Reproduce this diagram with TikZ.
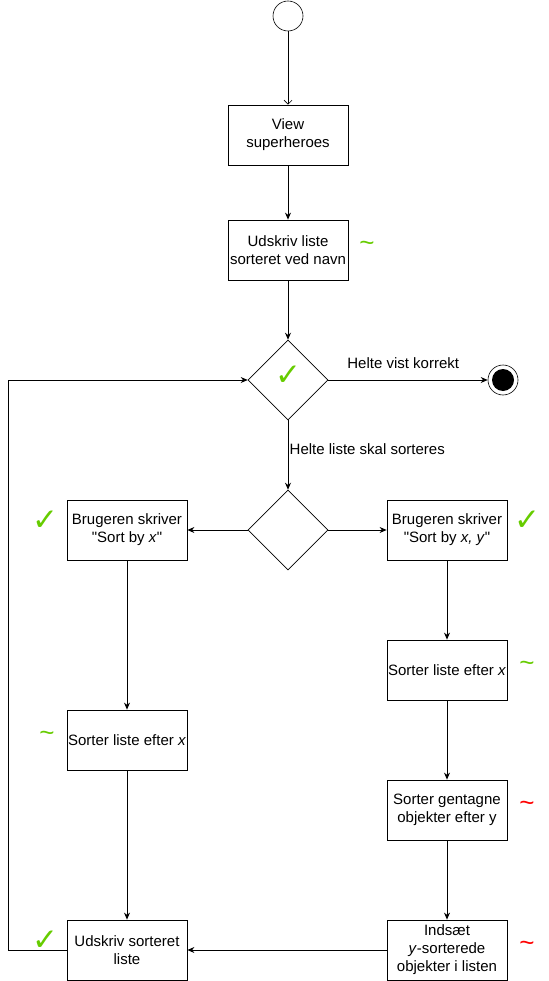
\documentclass[tikz,border=0pt]{standalone}
\usepackage{fontspec}
\setmainfont{Liberation Sans}
\newfontfamily\symfont{DejaVu Sans}
\usetikzlibrary{arrows.meta,shapes.geometric}
\definecolor{okgreen}{HTML}{66CC00}
\definecolor{badred}{HTML}{FF0000}
\tikzset{
  box/.style={draw, line width=0.8pt, minimum width=120pt, minimum height=60pt, inner sep=1pt, align=center, font=\fontsize{15}{18}\selectfont},
  dec/.style={draw, line width=0.6pt, diamond, minimum width=80pt, minimum height=80pt, inner sep=0pt, aspect=1},
  conn/.style={draw, line width=0.8pt, -{Stealth[length=7pt,width=6pt]}},
  lbl/.style={font=\fontsize{15}{18}\selectfont},
  chk/.style={text=okgreen, font=\symfont\fontsize{31}{31}\selectfont},
  tildeg/.style={text=okgreen, font=\fontsize{26}{26}\selectfont},
  tilder/.style={text=badred, font=\fontsize{26}{26}\selectfont},
}
\begin{document}
\begin{tikzpicture}[x=1pt,y=-1pt]
\useasboundingbox (0,0) rectangle (548,981);
\node[draw, circle, line width=0.6pt, minimum size=30pt, inner sep=0pt] (start) at (288,16) {};
\node[box] (view) at (288,135) {View\\superheroes};
\node[box] (udskriv) at (288,250) {Udskriv liste\\sorteret ved navn};
\node[tildeg] (t1) at (367,246) {\textasciitilde};
\node[dec] (d1) at (288,380) {};
\node[chk] (c0) at (288,376) {✓};
\node[draw, circle, line width=0.6pt, minimum size=30pt, inner sep=0pt] (end) at (503,380) {};
\node[fill=black, circle, minimum size=22pt, inner sep=0pt] (endin) at (503,380) {};
\node[dec] (d2) at (288,530) {};
\node[box] (lx) at (127,530) {Brugeren skriver\\\textquotedbl Sort by \textit{x}\textquotedbl};
\node[box] (rxy) at (447,530) {Brugeren skriver\\\textquotedbl Sort by \textit{x, y}\textquotedbl};
\node[chk] (c1) at (45,521) {✓};
\node[chk] (c2) at (527,521) {✓};
\node[box] (rsort) at (447,670) {Sorter liste efter \textit{x}};
\node[tildeg] (t2) at (527,666) {\textasciitilde};
\node[box] (lsort) at (127,740) {Sorter liste efter \textit{x}};
\node[tildeg] (t3) at (47,736) {\textasciitilde};
\node[box] (rgen) at (447,810) {Sorter gentagne\\objekter efter y};
\node[tilder] (t4) at (527,806) {\textasciitilde};
\node[box] (rind) at (447,950) {Indsæt\\\textit{y}-sorterede\\objekter i listen};
\node[tilder] (t5) at (527,946) {\textasciitilde};
\node[box] (lud) at (127,950) {Udskriv sorteret\\liste};
\node[chk] (c3) at (45,941) {✓};
\coordinate (bl) at (8,950);
\coordinate (tl) at (8,380);

\draw[line width=0.6pt, -{Straight Barb[length=4pt,width=8pt]}] (start) -- (view);
\draw[conn] (view) -- (udskriv);
\draw[conn] (udskriv) -- (d1);
\draw[conn] (d1.east) -- node[lbl, pos=0.47, yshift=17pt] {Helte vist korrekt} (end);
\draw[conn] (d1.south) -- node[lbl, anchor=west, xshift=-2pt, yshift=6pt] {Helte liste skal sorteres} (d2.north);
\draw[conn] (d2.west) -- (lx);
\draw[conn] (d2.east) -- (rxy);
\draw[conn] (lx) -- (lsort);
\draw[conn] (lsort) -- (lud);
\draw[conn] (rxy) -- (rsort);
\draw[conn] (rsort) -- (rgen);
\draw[conn] (rgen) -- (rind);
\draw[conn] (rind) -- (lud);
\draw[conn] (lud.west) -- (bl) -- (tl) -- (d1.west);
\end{tikzpicture}
\end{document}
